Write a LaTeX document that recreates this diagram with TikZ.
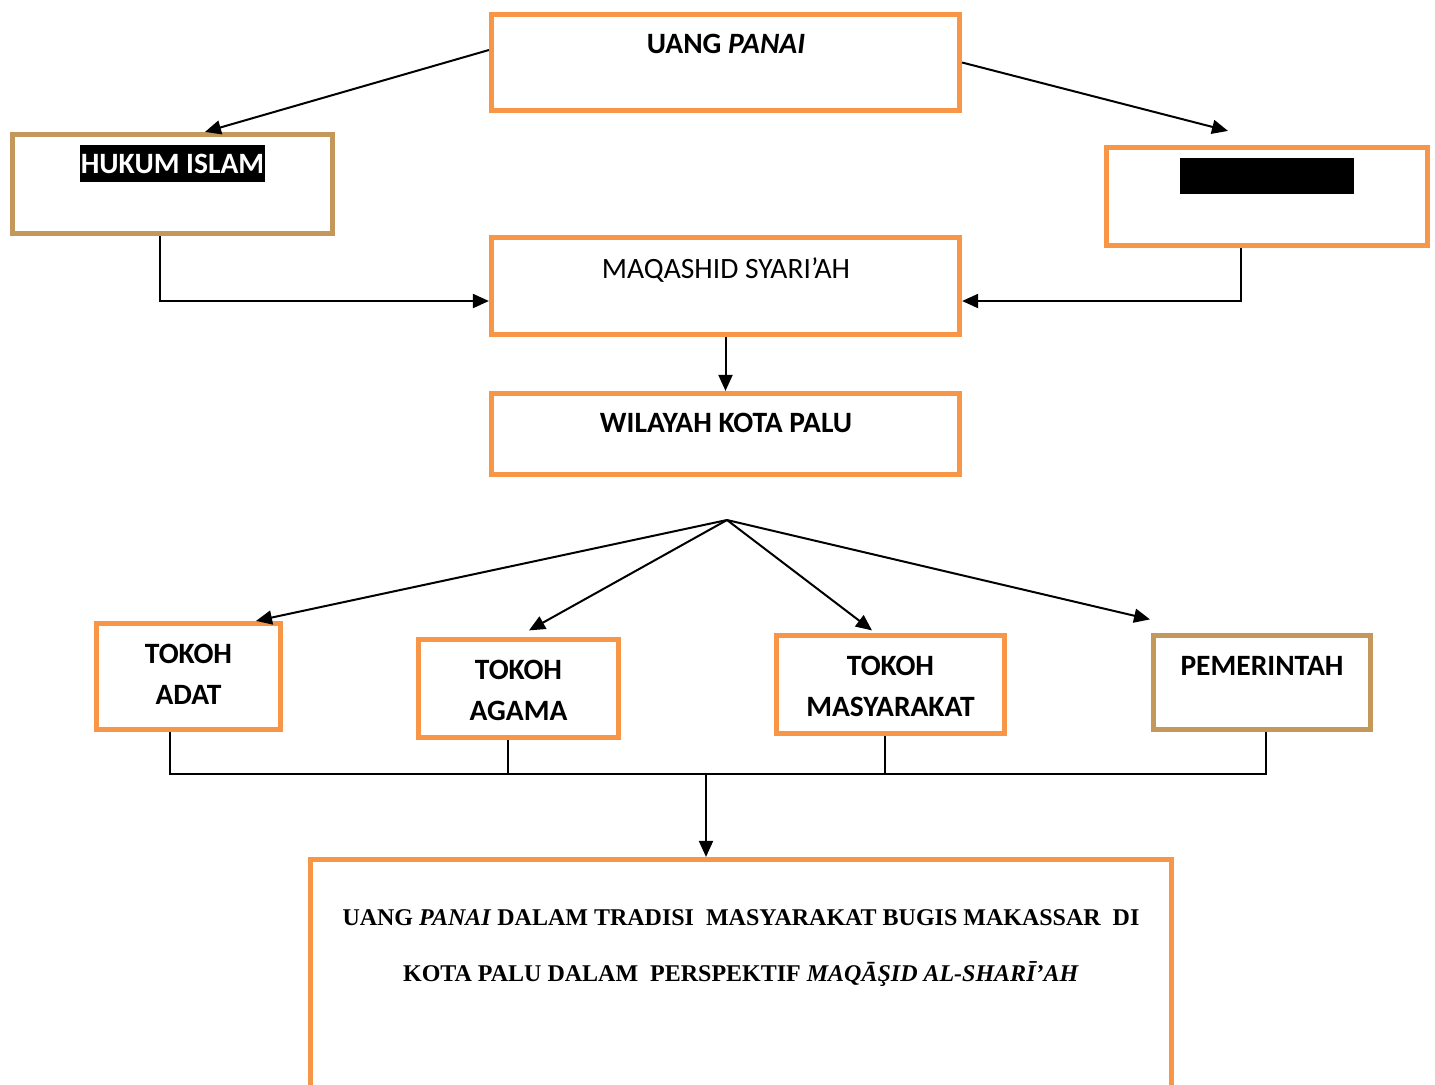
\documentclass[tikz,border=0pt]{standalone}
\usepackage{fontspec}
\setmainfont{Carlito}
\newfontfamily\tnr{Liberation Serif}
\usetikzlibrary{arrows.meta,calc}
\definecolor{boxorange}{HTML}{F79646}
\definecolor{boxtan}{RGB}{196,152,90}
\begin{document}
\begin{tikzpicture}[x=0.5pt,y=-0.5pt,
  obox/.style={draw=boxorange,line width=2.6pt,fill=none,inner sep=0pt},
  tbox/.style={draw=boxtan,line width=2.6pt,fill=none,inner sep=0pt},
  lab/.style={font=\fontsize{14.75pt}{20.5pt}\selectfont\bfseries,anchor=north,inner sep=0pt,align=center},
  plain/.style={font=\fontsize{14.75pt}{20.5pt}\selectfont,anchor=north,inner sep=0pt,align=center},
  conn/.style={line width=1pt,draw=black},
  arr/.style={conn,-{Triangle[length=8pt,width=7pt]}}]
\useasboundingbox (0,0) rectangle (1435,1084);
\clip (0,0) rectangle (1435,1084);
% boxes
\node[obox,minimum width=234pt,minimum height=48pt] (top) at (725.5,62.5) {};
\node[tbox,minimum width=160pt,minimum height=49.5pt] (hukum) at (172.5,184) {};
\node[obox,minimum width=160.5pt,minimum height=49pt] (right) at (1267,196.5) {};
\node[obox,minimum width=234pt,minimum height=48.5pt] (maq) at (725.5,286) {};
\node[obox,minimum width=234pt,minimum height=40.5pt] (wil) at (725.5,434) {};
\node[obox,minimum width=92pt,minimum height=53pt] (adat) at (188.5,676.5) {};
\node[obox,minimum width=100pt,minimum height=49pt] (agama) at (518.5,688.5) {};
\node[obox,minimum width=114pt,minimum height=49pt] (masy) at (890.5,684.5) {};
\node[tbox,minimum width=108.5pt,minimum height=47pt] (pem) at (1262,682.5) {};
\node[obox,minimum width=430.5pt,minimum height=129pt] (bottom) at (741,988.5) {};
% texts
\node[lab] (ttop) at (726,33.5) {UANG \textit{PANAI}};
\node[lab,fill=black,text=white,inner xsep=0.5pt,inner ysep=0pt,minimum height=18.5pt,anchor=center] (thukum) at (172.5,163.5) {HUKUM ISLAM};
\node[fill=black,inner sep=0pt,minimum width=87pt,minimum height=18pt] (tright) at (1267,176) {};
\node[plain] (tmaq) at (726,257.5) {MAQASHID SYARI’AH};
\node[lab] (twil) at (726,412.5) {WILAYAH KOTA PALU};
\node[lab] (tadat) at (188.5,643.5) {TOKOH\\ADAT};
\node[lab] (tagama) at (518.5,659.5) {TOKOH\\AGAMA};
\node[lab] (tmasy) at (890.5,655.5) {TOKOH\\MASYARAKAT};
\node[lab] (tpem) at (1262,655.5) {PEMERINTAH};
\node[font=\tnr\fontsize{12pt}{28pt}\selectfont\bfseries,anchor=north,inner sep=0pt,align=center] (tbottom) at (741,909)
  {UANG \textit{PANAI} DALAM TRADISI\ \ MASYARAKAT BUGIS MAKASSAR\ \ DI\\KOTA PALU DALAM\ \ PERSPEKTIF \textit{MAQĀŞID AL-SHARĪ’AH}};
% connectors
\draw[arr] ([yshift=6.25pt]top.west) -- ([xshift=16.25pt]hukum.north);
\draw[arr] (top.east) -- ([xshift=-19.5pt,yshift=7pt]right.north);
\draw[arr] ([xshift=-6.25pt]hukum.south) |- ([yshift=-7.5pt]maq.west);
\draw[arr] ([xshift=-13pt]right.south) |- ([yshift=-7.5pt]maq.east);
\draw[arr] (maq.south) -- (wil.north);
\coordinate (hub) at (727,520);
\draw[arr] (hub) -- ([xshift=33.75pt]adat.north);
\draw[arr] (hub) -- ([xshift=5.25pt,yshift=3.25pt]agama.north);
\draw[arr] (hub) -- ([xshift=-9.25pt,yshift=1.25pt]masy.north);
\draw[arr] (hub) -- ([xshift=-56pt,yshift=6.75pt]pem.north);
\coordinate (bus) at (706,774);
\draw[conn] ([xshift=-9.25pt]adat.south) |- (bus) -| ([xshift=2pt]pem.south);
\draw[conn] ([xshift=-5.25pt]agama.south) -- ([xshift=-5.25pt]agama.south |- bus);
\draw[conn] ([xshift=-2.75pt]masy.south) -- ([xshift=-2.75pt]masy.south |- bus);
\draw[arr] (bus) -- (bus |- bottom.north);
\end{tikzpicture}
\end{document}
